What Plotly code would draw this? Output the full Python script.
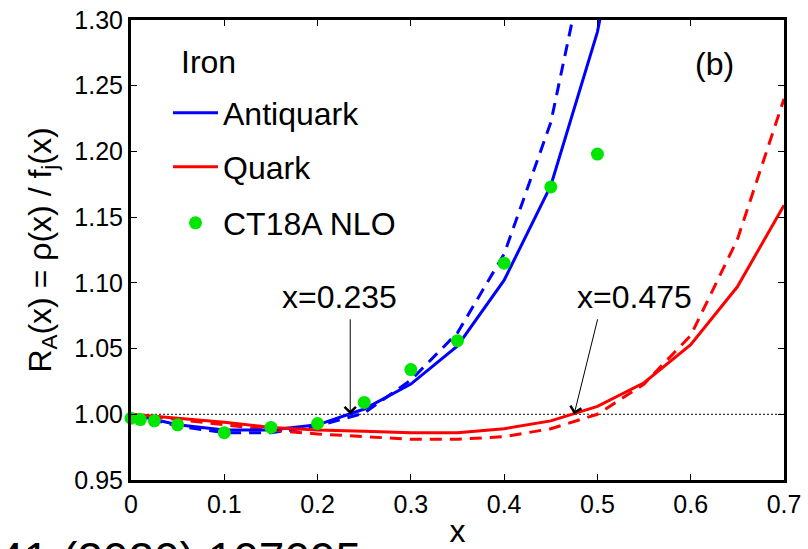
import plotly.graph_objects as go

# ---- data -------------------------------------------------------------
# nodes of the model curves
x_nodes = [0.0, 0.05, 0.10, 0.15, 0.20, 0.25, 0.30, 0.35, 0.40, 0.45,
           0.50, 0.55, 0.60, 0.65, 0.70]

# antiquark ratio (solid / dashed), runs off the top of the frame
antiquark_solid = [1.000, 0.992, 0.988, 0.988, 0.992, 1.004, 1.023, 1.052,
                   1.102, 1.174, 1.291, 1.470]
antiquark_dashed = [1.000, 0.991, 0.986, 0.986, 0.991, 1.001, 1.026, 1.062,
                    1.122, 1.222, 1.390]

# quark ratio (solid / dashed)
quark_solid = [1.000, 0.997, 0.994, 0.990, 0.988, 0.987, 0.986, 0.986,
               0.989, 0.995, 1.006, 1.024, 1.053, 1.097, 1.159]
quark_dashed = [1.000, 0.996, 0.992, 0.988, 0.985, 0.983, 0.981, 0.981,
                0.983, 0.989, 1.000, 1.023, 1.060, 1.133, 1.240]

# CT18A NLO points
ct18_x = [0.0, 0.01, 0.025, 0.05, 0.10, 0.15, 0.20, 0.25, 0.30, 0.35,
          0.40, 0.45, 0.50]
ct18_r = [0.997, 0.996, 0.995, 0.992, 0.986, 0.990, 0.993, 1.009, 1.034,
          1.056, 1.115, 1.173, 1.198]

# crossing points marked with arrows
cross_x = [0.235, 0.475]
cross_labels = ["x=0.235", "x=0.475"]

# axis ticks
x_ticks = [0.0, 0.1, 0.2, 0.3, 0.4, 0.5, 0.6, 0.7]
x_ticktext = ["0", "0.1", "0.2", "0.3", "0.4", "0.5", "0.6", "0.7"]
y_ticks = [0.95, 1.00, 1.05, 1.10, 1.15, 1.20, 1.25, 1.30]
y_ticktext = ["0.95", "1.00", "1.05", "1.10", "1.15", "1.20", "1.25", "1.30"]

# ---- styling ----------------------------------------------------------
FONT = "Liberation Sans, Arial, sans-serif"
BLUE = "#0000ff"
RED = "#ff0000"
GREEN = "#00e600"
W, H = 808, 549
ML, MR, MT, MB = 131, 24, 20, 69
PW, PH = W - ML - MR, H - MT - MB


def px(X):
    return (X - ML) / PW


def py(Y):
    return (H - MB - Y) / PH


fig = go.Figure()

fig.add_trace(go.Scatter(
    x=x_nodes[:len(antiquark_dashed)], y=antiquark_dashed, mode="lines",
    line=dict(color=BLUE, width=3, dash="12px,8px"), showlegend=False))
fig.add_trace(go.Scatter(
    x=x_nodes[:len(quark_dashed)], y=quark_dashed, mode="lines",
    line=dict(color=RED, width=3, dash="12px,8px"), showlegend=False))
fig.add_trace(go.Scatter(
    x=x_nodes[:len(antiquark_solid)], y=antiquark_solid, mode="lines",
    line=dict(color=BLUE, width=3), name="Antiquark", legend="legend"))
fig.add_trace(go.Scatter(
    x=x_nodes[:len(quark_solid)], y=quark_solid, mode="lines",
    line=dict(color=RED, width=3), name="Quark", legend="legend2"))
fig.add_trace(go.Scatter(
    x=ct18_x, y=ct18_r, mode="markers", cliponaxis=False,
    marker=dict(color=GREEN, size=13, line=dict(width=0)),
    name="CT18A NLO", legend="legend3"))

# reference line R = 1
fig.add_shape(type="line", xref="x", yref="y", x0=0, x1=0.7, y0=1.0, y1=1.0,
              line=dict(color="black", width=1, dash="2px,2px"), layer="below")

annotations = []
# arrows pointing at the crossings
arrow_offsets = [(0, -97), (24, -97)]
text_centres = [(339, 297), (634, 297)]
for xc, lab, (axo, ayo), (tx, ty) in zip(cross_x, cross_labels, arrow_offsets, text_centres):
    annotations.append(dict(
        x=xc, y=1.0, xref="x", yref="y", text=" ", showarrow=True,
        ax=axo, ay=ayo, axref="pixel", ayref="pixel",
        arrowhead=4, arrowsize=2.2, arrowwidth=1, arrowcolor="black",
        standoff=0, startstandoff=0, font=dict(size=1)))
    annotations.append(dict(
        x=px(tx), y=py(ty), xref="paper", yref="paper", text=lab,
        showarrow=False, xanchor="center", yanchor="middle",
        font=dict(family=FONT, size=32, color="black")))

annotations += [
    dict(x=px(179), y=py(62), xref="paper", yref="paper", text="Iron",
         showarrow=False, xanchor="left", yanchor="middle",
         font=dict(family=FONT, size=32, color="black")),
    dict(x=px(714), y=py(64), xref="paper", yref="paper", text="(b)",
         showarrow=False, xanchor="center", yanchor="middle",
         font=dict(family=FONT, size=32, color="black")),
    dict(x=px(-4), y=py(531), xref="paper", yref="paper",
         text="41 (2020) 107095", showarrow=False,
         xanchor="left", yanchor="top",
         font=dict(family=FONT, size=46, color="black")),
]


def legend_at(cx, cy):
    return dict(x=px(cx), y=py(cy), xref="paper", yref="paper",
                xanchor="left", yanchor="middle",
                bgcolor="rgba(0,0,0,0)", borderwidth=0,
                font=dict(family=FONT, size=32, color="black"),
                itemwidth=45)


axis_common = dict(
    showline=True, linewidth=3, linecolor="black", mirror="ticks",
    ticks="inside", ticklen=6, tickwidth=1, tickcolor="black",
    showgrid=False, zeroline=False,
    tickfont=dict(family=FONT, size=25, color="black"),
)

fig.update_layout(
    width=W, height=H,
    margin=dict(l=ML, r=MR, t=MT, b=MB, autoexpand=False),
    paper_bgcolor="white", plot_bgcolor="white",
    font=dict(family=FONT, color="black"),
    xaxis=dict(range=[0, 0.7], tickvals=x_ticks, ticktext=x_ticktext,
               title=dict(text="x", font=dict(family=FONT, size=32), standoff=10),
               automargin=False, **axis_common),
    yaxis=dict(range=[0.95, 1.30], tickvals=y_ticks, ticktext=y_ticktext,
               title=dict(text="R<sub>A</sub>(x) = ρ(x) / f<sub>j</sub>(x)",
                          font=dict(family=FONT, size=32), standoff=14),
               automargin=False, **axis_common),
    legend=legend_at(168, 113),
    legend2=legend_at(168, 167),
    legend3=legend_at(168, 223),
    annotations=annotations,
)

fig.write_html("out.html")
